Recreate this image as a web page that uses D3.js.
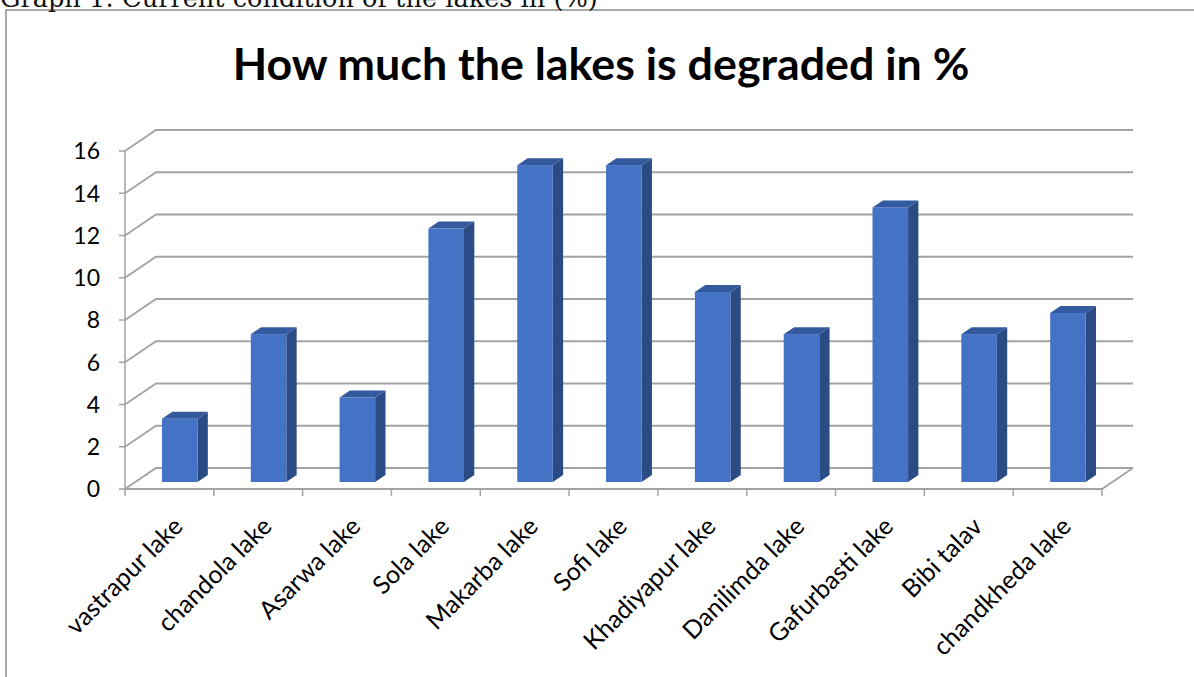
<!DOCTYPE html>
<html>
<head>
<meta charset="utf-8">
<script src="https://cdn.jsdelivr.net/npm/d3@7/dist/d3.min.js"></script>
<style>
  html, body { margin: 0; padding: 0; background: #fff; }
  svg { display: block; }
</style>
</head>
<body>
<svg id="chart" width="1194" height="677"></svg>
<script>
// Lakes and how much each one is degraded (%)
const lakes = ["vastrapur lake", "chandola lake", "Asarwa lake", "Sola lake", "Makarba lake",
  "Sofi lake", "Khadiyapur lake", "Danilimda lake", "Gafurbasti lake", "Bibi talav", "chandkheda lake"];
const degraded = [3, 7, 4, 12, 15, 15, 9, 7, 13, 7, 8];
const yTicks = [0, 2, 4, 6, 8, 10, 12, 14, 16];

const caption = "Graph 1: Current condition of the lakes in (%)";
const title = "How much the lakes is degraded in %";

const svg = d3.select("#chart");
const sans = "Lato, 'Open Sans', sans-serif";

// 3D frame: front plane plus a receding depth offset
const front = { left: 125, right: 1102, bottom: 489, top: 151 };
const depth = { dx: 31, dy: -21 };
const barDepth = [1 / 3, 2 / 3];   // bars sit in the middle of the floor depth

const x = d3.scaleBand().domain(lakes).range([front.left, front.right])
  .paddingInner(0.6).paddingOuter(0.3);
const y = d3.scaleLinear().domain([0, 16]).range([front.bottom, front.top]);

// Chart frame
svg.append("rect")
  .attr("x", 6).attr("y", 10).attr("width", 1300).attr("height", 800)
  .attr("fill", "none").attr("stroke", "#8c8c8c").attr("stroke-width", 1.5);

// Caption above the frame (clipped by the page top)
const cap = svg.append("text")
  .attr("x", 0).attr("y", 7)
  .attr("font-family", "'DejaVu Serif', 'Liberation Serif', serif")
  .attr("font-size", 20).attr("fill", "#111")
  .text(caption);
const capW = cap.node().getComputedTextLength();
cap.attr("font-size", 20 * 598 / capW);

// Title
const t = svg.append("text")
  .attr("x", 601).attr("y", 80).attr("text-anchor", "middle")
  .attr("font-family", sans).attr("font-weight", "bold")
  .attr("font-size", 40).attr("fill", "#000")
  .text(title);
const tW = t.node().getComputedTextLength();
t.attr("font-size", 40 * 737 / tW);

// Gridlines: back wall horizontals and left wall diagonals
const grid = svg.append("g").attr("stroke", "#a3a3a3").attr("stroke-width", 1.8).attr("fill", "none");
yTicks.forEach(v => {
  const yy = y(v);
  grid.append("path")
    .attr("d", `M${front.left},${yy} L${front.left + depth.dx},${yy + depth.dy} L${front.right + depth.dx},${yy + depth.dy}`);
});
// Floor: front edge and right edge
grid.append("path")
  .attr("d", `M${front.left},${y(0)} L${front.right},${y(0)} L${front.right + depth.dx},${y(0) + depth.dy}`);

// Value axis line and ticks
const ax = svg.append("g").attr("stroke", "#a3a3a3").attr("stroke-width", 1.5);
ax.append("line").attr("x1", front.left).attr("x2", front.left)
  .attr("y1", y(16)).attr("y2", y(0));
yTicks.forEach(v => {
  ax.append("line").attr("x1", front.left - 6).attr("x2", front.left)
    .attr("y1", y(v)).attr("y2", y(v));
});
svg.append("g").selectAll("text").data(yTicks).join("text")
  .attr("x", 100).attr("y", d => y(d)).attr("dy", "0.36em")
  .attr("text-anchor", "end")
  .attr("font-family", sans).attr("font-size", 23).attr("fill", "#000")
  .text(d => d);

// Category axis tick marks at band boundaries
const step = x.step();
d3.range(lakes.length + 1).forEach(i => {
  const xx = front.left + i * step;
  ax.append("line").attr("x1", xx).attr("x2", xx)
    .attr("y1", y(0)).attr("y2", y(0) + 7);
});

// Bars as 3D prisms: front face, side face, top face
const bars = svg.append("g");
lakes.forEach((lake, i) => {
  const v = degraded[i];
  const f0 = barDepth[0], f1 = barDepth[1];
  const x0 = x(lake) + depth.dx * f0;
  const x1 = x0 + x.bandwidth();
  const yb = y(0) + depth.dy * f0;
  const yt = y(v) + depth.dy * f0;
  const ddx = depth.dx * (f1 - f0), ddy = depth.dy * (f1 - f0);
  const g = bars.append("g");
  // side
  g.append("path")
    .attr("d", `M${x1},${yb} L${x1 + ddx},${yb + ddy} L${x1 + ddx},${yt + ddy} L${x1},${yt} Z`)
    .attr("fill", "#2b4b84");
  // top
  g.append("path")
    .attr("d", `M${x0},${yt} L${x1},${yt} L${x1 + ddx},${yt + ddy} L${x0 + ddx},${yt + ddy} Z`)
    .attr("fill", "#33599e");
  // front
  g.append("rect")
    .attr("x", x0).attr("y", yt).attr("width", x1 - x0).attr("height", yb - yt)
    .attr("fill", "#4472c4");
});

// Category labels, rotated 45 degrees
svg.append("g").selectAll("text").data(lakes).join("text")
  .attr("transform", d => `translate(${x(d) + x.bandwidth() / 2 + 15},528) rotate(-45)`)
  .attr("text-anchor", "end")
  .attr("font-family", sans).attr("font-size", 25).attr("fill", "#000")
  .text(d => d);
</script>
</body>
</html>
